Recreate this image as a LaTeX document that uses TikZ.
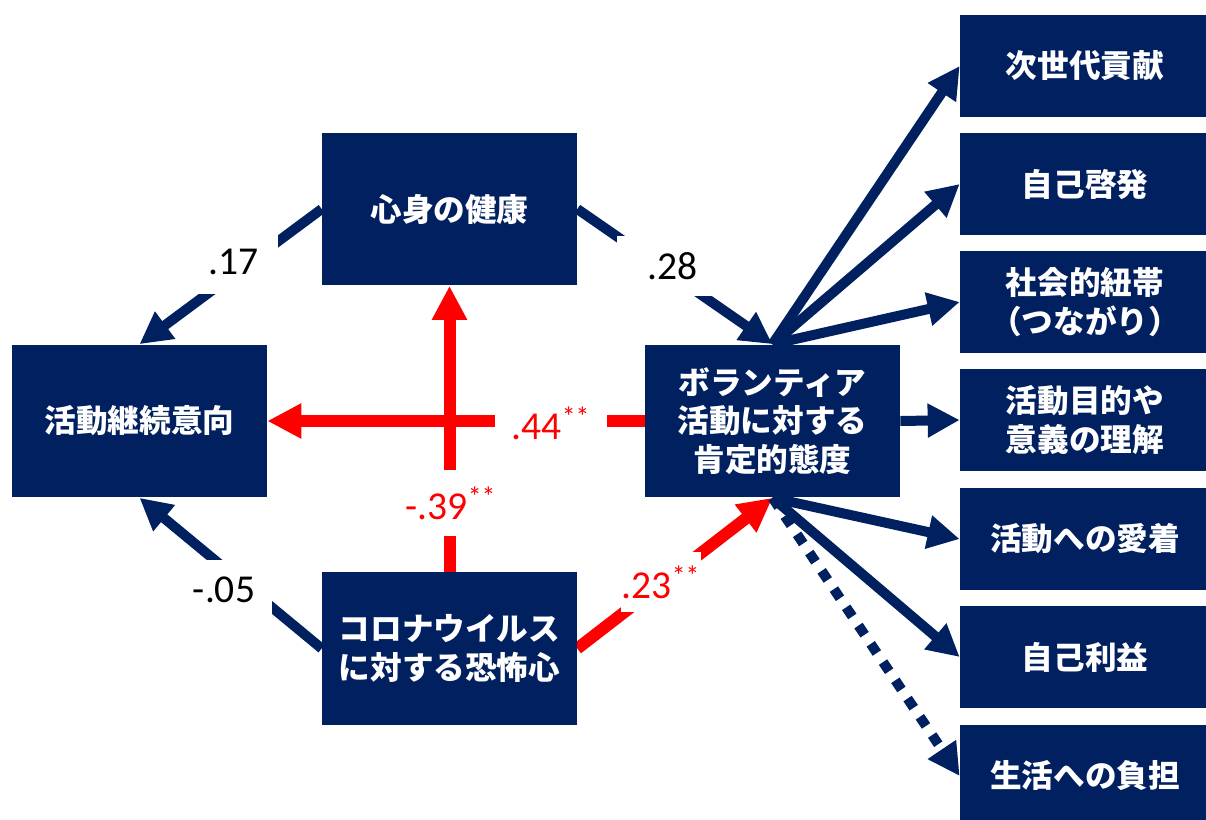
\documentclass[tikz,border=0pt]{standalone}
\usepackage{fontspec}
\setmainfont{Carlito}
\newfontfamily\jp{Noto Sans CJK JP}
\usetikzlibrary{arrows.meta}
\definecolor{navy}{HTML}{002060}
\definecolor{cred}{HTML}{FF0000}
\pgfdeclarelayer{background}
\pgfsetlayers{background,main}
\begin{document}
\begin{tikzpicture}[x=0.02cm,y=-0.02cm,
  box/.style={fill=navy, text=white, font=\jp\bfseries\fontsize{18}{22}\selectfont, align=center, inner sep=0pt, minimum width=5.1cm, minimum height=3.06cm},
  rbox/.style={box, minimum width=5cm, minimum height=2.04cm},
  bl/.style={draw=navy, line width=0.2cm, -{Triangle[length=0.64cm,width=0.64cm]}},
  rl/.style={draw=cred, line width=0.24cm, -{Triangle[length=0.68cm,width=0.66cm]}},
  lab/.style={fill=white, font=\fontsize{22.5}{27}\selectfont, inner sep=0pt},
  rlab/.style={lab, text=cred},
]
\useasboundingbox (0,0) rectangle (1206,819);
\clip (0,0) rectangle (1206,819);

% main boxes
\node[box] (health) at (449.5,209) {心身の健康};
\node[box] (cont) at (139.5,421) {活動継続意向};
\node[box] (vol) at (772.5,421) {ボランティア\\活動に対する\\肯定的態度};
\node[box] (fear) at (449.5,648.5) {コロナウイルス\\に対する恐怖心};

% outcome boxes
\node[rbox] (r1) at (1085,66) {次世代貢献};
\node[rbox] (r2) at (1085,184) {自己啓発};
\node[rbox] (r3) at (1085,302) {社会的紐帯\\（つながり）};
\node[rbox] (r4) at (1085,420) {活動目的や\\意義の理解};
\node[rbox] (r5) at (1085,539) {活動への愛着};
\node[rbox] (r6) at (1085,657) {自己利益};
\node[rbox] (r7) at (1085,776) {生活への負担};

% path labels (white boxes interrupt the connectors)
\node[lab, minimum width=1.76cm, minimum height=1.28cm] (l17) at (234,262) {.17};
\node[lab, minimum width=2.26cm, minimum height=1.2cm] (l28) at (673,266) {.28};
\node[lab, minimum width=1.92cm, minimum height=1.2cm] (l05) at (224,590) {-.05};
\node[rlab, minimum width=2.26cm, minimum height=1.2cm] (l44) at (551,423) {.44\textsuperscript{**}};
\node[rlab, minimum width=2.44cm, minimum height=1.32cm] (l39) at (451,503) {-.39\textsuperscript{**}};
\node[rlab, minimum width=1.6cm, minimum height=1.2cm] (l23) at (661,582) {.23\textsuperscript{**}};

\begin{pgfonlayer}{background}
\draw[bl] (health.west) -- (cont.north);
\draw[bl] (health.east) -- (vol.north);
\draw[bl] (fear.west) -- (cont.south);
\draw[rl] (vol.west) -- (cont.east);
\draw[rl] (fear.north) -- (health.south);
\draw[rl] (fear.east) -- (vol.south);
\draw[bl] (vol.north) -- (r1.west);
\draw[bl] (vol.north) -- (r2.west);
\draw[bl] (vol.north) -- (r3.west);
\draw[bl] (vol.east) -- (r4.west);
\draw[bl] (vol.south) -- (r5.west);
\draw[bl] (vol.south) -- (r6.west);
\draw[bl, dash pattern=on 0.22cm off 0.22cm] (vol.south) -- (r7.west);
\end{pgfonlayer}
\end{tikzpicture}
\end{document}
